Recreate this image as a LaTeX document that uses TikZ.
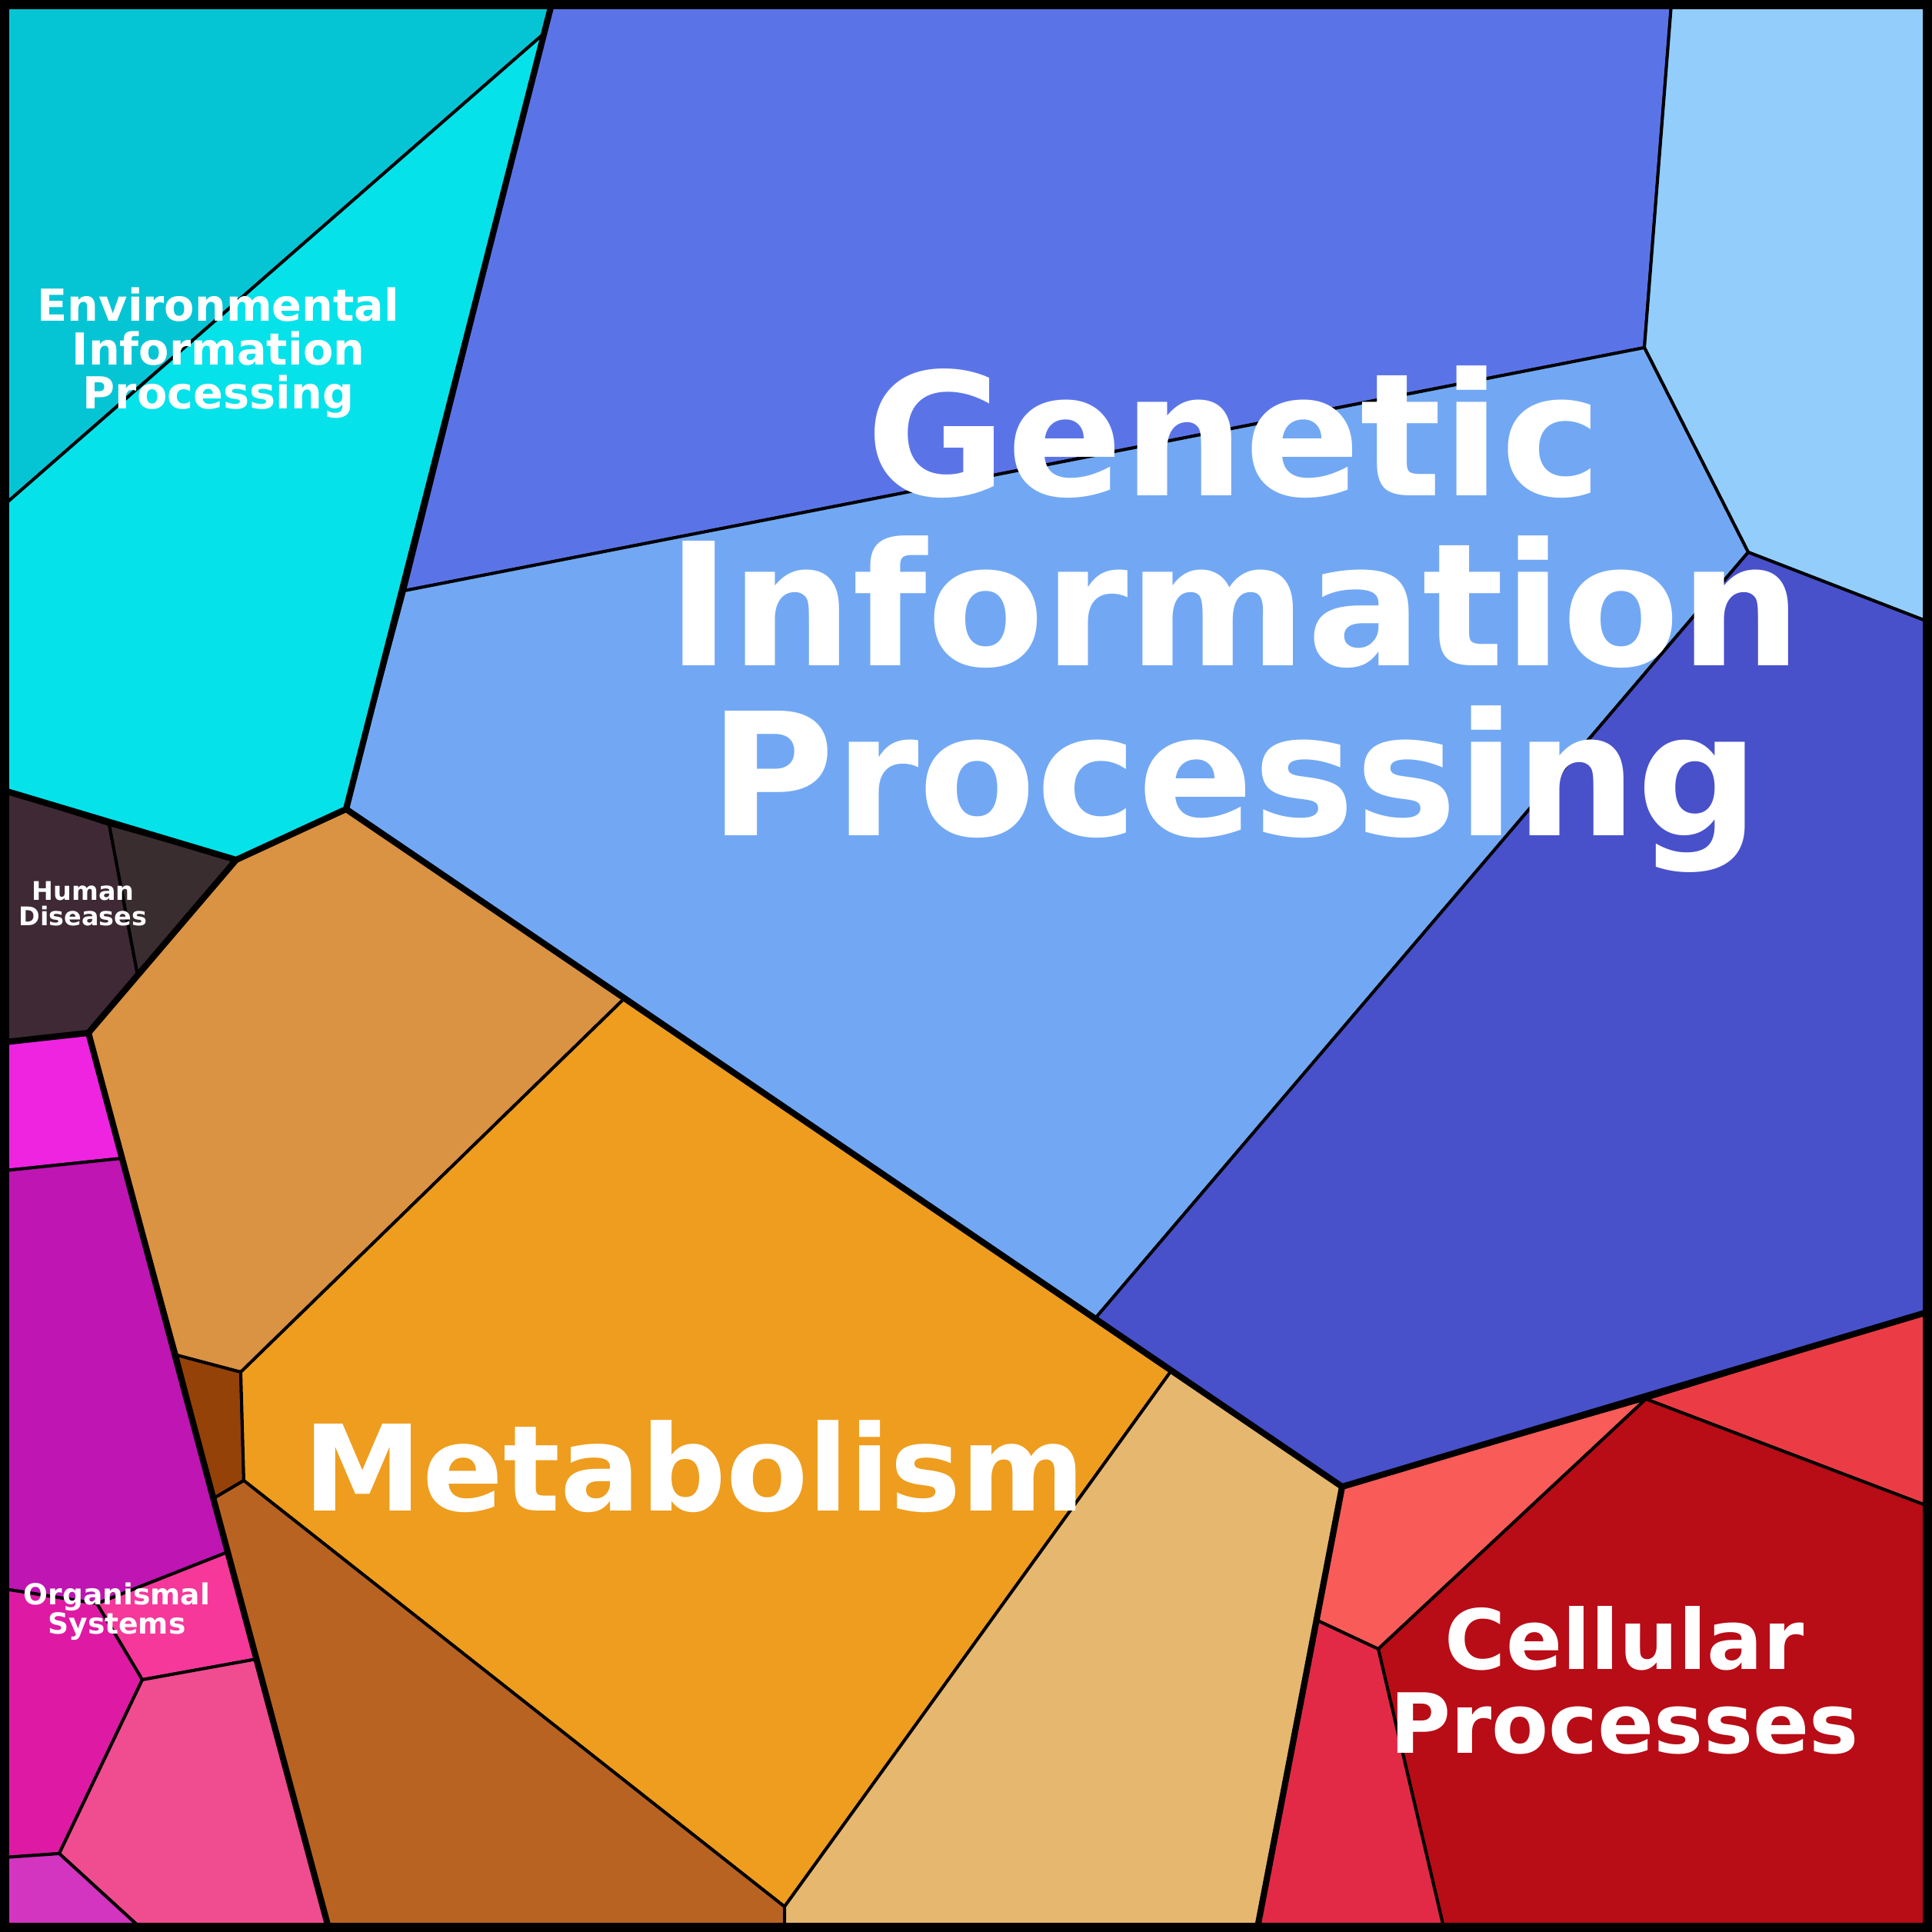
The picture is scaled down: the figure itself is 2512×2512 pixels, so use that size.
\documentclass[tikz,border=0pt]{standalone}
\usepackage{fontspec}
\setmainfont{DejaVu Sans}
\definecolor{envDark}{HTML}{05C5D5}
\definecolor{envCyan}{HTML}{05E2EA}
\definecolor{genTop}{HTML}{5A74E8}
\definecolor{genLight}{HTML}{72A8F3}
\definecolor{genSky}{HTML}{92CDFC}
\definecolor{genIndigo}{HTML}{4851CA}
\definecolor{metLight}{HTML}{DA9243}
\definecolor{metOrange}{HTML}{EE9D1E}
\definecolor{metDark}{HTML}{944208}
\definecolor{metBrown}{HTML}{B86322}
\definecolor{metTan}{HTML}{E6B76E}
\definecolor{humA}{HTML}{3E2934}
\definecolor{humB}{HTML}{3A2D30}
\definecolor{orgMagenta}{HTML}{EE24E0}
\definecolor{orgPurple}{HTML}{BE15B3}
\definecolor{orgPinkA}{HTML}{F5389A}
\definecolor{orgMagentaB}{HTML}{DE1AA4}
\definecolor{orgPink}{HTML}{F04C90}
\definecolor{orgViolet}{HTML}{D334C0}
\definecolor{celSalmon}{HTML}{F85B58}
\definecolor{celRed}{HTML}{EB3C45}
\definecolor{celDark}{HTML}{B80C16}
\definecolor{celCrimson}{HTML}{E22A47}
\begin{document}
\begin{tikzpicture}[x=0.01cm,y=-0.01cm,
    cell/.style={draw=black,line width=1.14pt,line join=round},
    split/.style={draw=black,line width=2.3pt,line join=round,line cap=round},
    label/.style={text=white,align=center,inner sep=0pt}]
    \useasboundingbox (0,0) rectangle (2512,2512);

    % 边框上的点
    \coordinate (TL) at (6,6);
    \coordinate (TR) at (2506,6);
    \coordinate (BR) at (2506,2506);
    \coordinate (BL) at (6,2506);

    % 一级分区的交点
    \coordinate (T1) at (717,6);
    \coordinate (J1) at (450,1052);
    \coordinate (J2) at (307,1118);
    \coordinate (J3) at (6,1028);
    \coordinate (J4) at (115,1343);
    \coordinate (J5) at (6,1355);
    \coordinate (M1) at (812,1298);
    \coordinate (M2) at (1523,1782);
    \coordinate (J6) at (1745,1933);
    \coordinate (J7) at (2506,1706);
    \coordinate (J8) at (1635,2506);
    \coordinate (J9) at (427,2506);

    % Environmental Information Processing
    \coordinate (E1) at (708,43);
    \coordinate (E2) at (6,656);
    \filldraw[cell,fill=envDark] (TL) -- (T1) -- (E1) -- (E2) -- cycle;
    \filldraw[cell,fill=envCyan] (E1) -- (J1) -- (J2) -- (J3) -- (E2) -- cycle;

    % Genetic Information Processing
    \coordinate (T2) at (2173,6);
    \coordinate (G1) at (526,768);
    \coordinate (G2) at (2138,452);
    \coordinate (G3) at (2273,718);
    \coordinate (G4) at (2506,808);
    \coordinate (G5) at (1425,1713);
    \filldraw[cell,fill=genTop] (T1) -- (T2) -- (G2) -- (G1) -- cycle;
    \filldraw[cell,fill=genSky] (T2) -- (TR) -- (G4) -- (G3) -- (G2) -- cycle;
    \filldraw[cell,fill=genLight] (G1) -- (G2) -- (G3) -- (G5) -- (M1) -- (J1) -- cycle;
    \filldraw[cell,fill=genIndigo] (G3) -- (G4) -- (J7) -- (J6) -- (M2) -- (G5) -- cycle;

    % Human Diseases
    \coordinate (H1) at (142,1072);
    \coordinate (H2) at (179,1268);
    \filldraw[cell,fill=humA] (J3) -- (H1) -- (H2) -- (J4) -- (J5) -- cycle;
    \filldraw[cell,fill=humB] (H1) -- (J2) -- (H2) -- cycle;

    % Metabolism
    \coordinate (M3) at (313,1784);
    \coordinate (M4) at (230,1762);
    \coordinate (M5) at (317,1925);
    \coordinate (M6) at (278,1948);
    \coordinate (M7) at (1020,2479);
    \coordinate (M8) at (1020,2506);
    \filldraw[cell,fill=metLight] (J2) -- (J1) -- (M1) -- (M3) -- (M4) -- (J4) -- cycle;
    \filldraw[cell,fill=metDark] (M4) -- (M3) -- (M5) -- (M6) -- cycle;
    \filldraw[cell,fill=metOrange] (M3) -- (M1) -- (M2) -- (M7) -- (M5) -- cycle;
    \filldraw[cell,fill=metBrown] (M6) -- (M5) -- (M7) -- (M8) -- (J9) -- cycle;
    \filldraw[cell,fill=metTan] (M7) -- (M2) -- (J6) -- (J8) -- (M8) -- cycle;

    % Organismal Systems
    \coordinate (O1) at (159,1506);
    \coordinate (O2) at (6,1522);
    \coordinate (O3) at (296,2018);
    \coordinate (O4) at (126,2085);
    \coordinate (O5) at (6,2066);
    \coordinate (O6) at (334,2157);
    \coordinate (O7) at (185,2184);
    \coordinate (O8) at (77,2410);
    \coordinate (O9) at (6,2415);
    \coordinate (O10) at (182,2506);
    \filldraw[cell,fill=orgMagenta] (J5) -- (J4) -- (O1) -- (O2) -- cycle;
    \filldraw[cell,fill=orgPurple] (O2) -- (O1) -- (O3) -- (O4) -- (O5) -- cycle;
    \filldraw[cell,fill=orgPinkA] (O4) -- (O3) -- (O6) -- (O7) -- cycle;
    \filldraw[cell,fill=orgMagentaB] (O5) -- (O4) -- (O7) -- (O8) -- (O9) -- cycle;
    \filldraw[cell,fill=orgPink] (O7) -- (O6) -- (J9) -- (O10) -- (O8) -- cycle;
    \filldraw[cell,fill=orgViolet] (O9) -- (O8) -- (O10) -- (BL) -- cycle;

    % Cellular Processes
    \coordinate (C1) at (2140,1819);
    \coordinate (C2) at (2506,1958);
    \coordinate (C3) at (1792,2144);
    \coordinate (C4) at (1713,2107);
    \coordinate (C5) at (1877,2506);
    \filldraw[cell,fill=celSalmon] (J6) -- (C1) -- (C3) -- (C4) -- cycle;
    \filldraw[cell,fill=celRed] (C1) -- (J7) -- (C2) -- cycle;
    \filldraw[cell,fill=celDark] (C1) -- (C2) -- (BR) -- (C5) -- (C3) -- cycle;
    \filldraw[cell,fill=celCrimson] (C4) -- (C3) -- (C5) -- (J8) -- cycle;

    % 一级分区的粗边界
    \draw[split] (T1) -- (J1) -- (J2) -- (J3);
    \draw[split] (J1) -- (M1) -- (M2) -- (J6) -- (J7);
    \draw[split] (J6) -- (J8);
    \draw[split] (J2) -- (J4) -- (J5);
    \draw[split] (J4) -- (J9);
    \draw[line width=3.4pt] (TL) rectangle (BR);

    % 标签
    \node[label,font=\bfseries\fontsize{63.2}{62.9}\selectfont] (genetic) at (1605,805) {Genetic\\Information\\Processing};
    \node[label,font=\bfseries\fontsize{44.1}{44}\selectfont,anchor=base] (metabolism) at (903,1964) {Metabolism};
    \node[label,font=\bfseries\fontsize{30.7}{31}\selectfont] (cellular) at (2112,2185) {Cellular\\Processes};
    \node[label,font=\bfseries\fontsize{16.3}{16.2}\selectfont] (environmental) at (284,459) {Environmental\\Information\\Processing};
    \node[label,font=\bfseries\fontsize{9.5}{9.6}\selectfont] (human) at (108,1175) {Human\\Diseases};
    \node[label,font=\bfseries\fontsize{10.7}{10.9}\selectfont] (organismal) at (152,2095) {Organismal\\Systems};
\end{tikzpicture}
\end{document}
